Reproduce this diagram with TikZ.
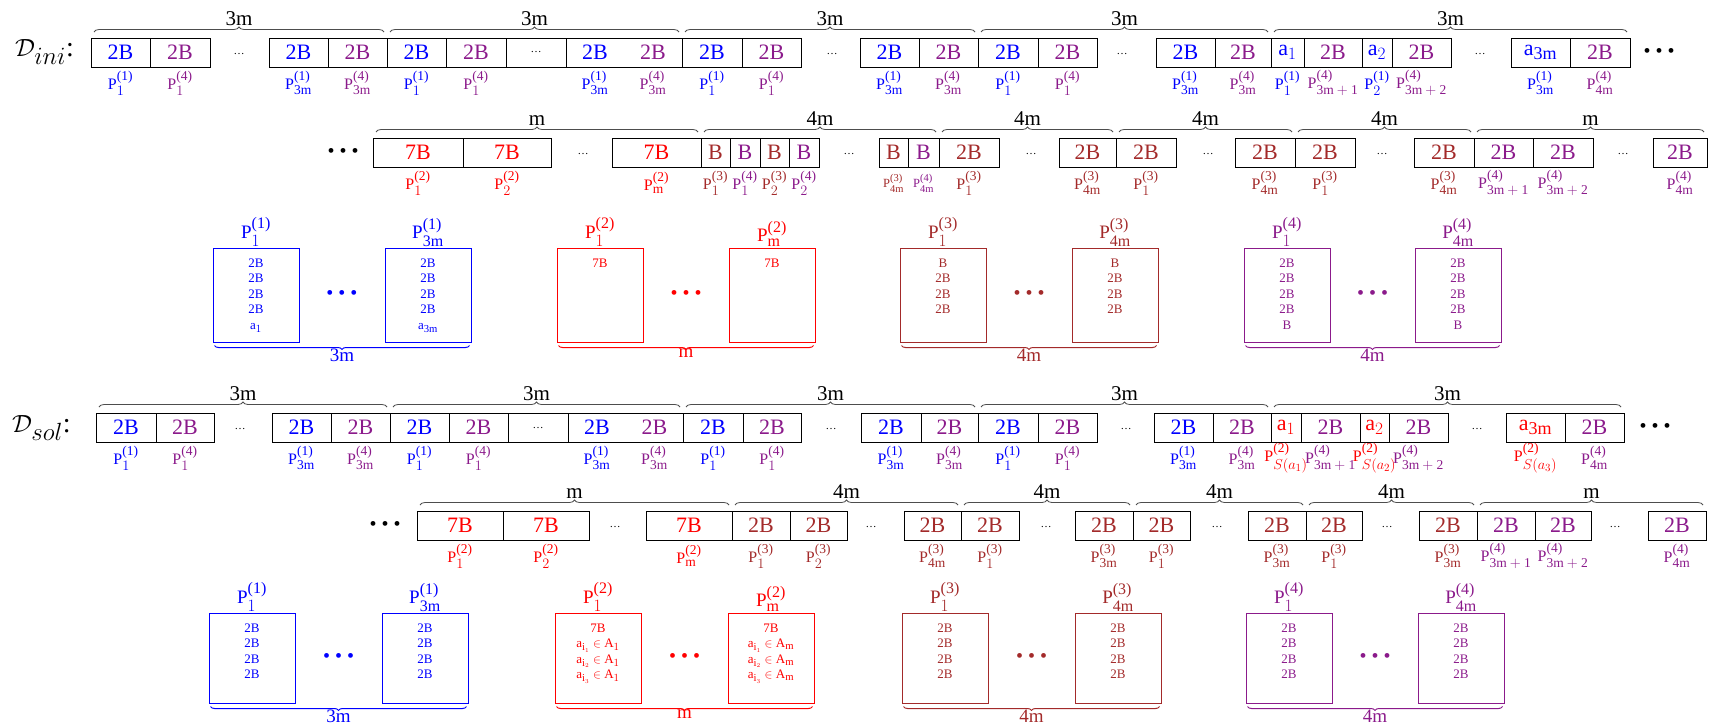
\documentclass[tikz,border=0pt]{standalone}
\usepackage{amsmath, amssymb}
\usepackage{fontspec}
\setmainfont{Liberation Serif}
\usetikzlibrary{calc, decorations.pathreplacing}
\renewcommand{\defaultscriptratio}{0.82}
\definecolor{pone}{HTML}{0000FF}
\definecolor{ptwo}{HTML}{FF0000}
\definecolor{pthree}{HTML}{A32A2A}
\definecolor{pfour}{HTML}{8B1A8B}
\definecolor{bracegray}{HTML}{4D4D4D}

\newcommand{\plsize}{\fontsize{13.5}{14}\selectfont}
\newcommand{\pl}[2]{P$^{\mbox{\plsize(#1)}}_{\mbox{\plsize$#2$}}$}
\newcommand{\ai}[1]{a$_{#1}$}
\newcommand{\aA}[2]{$\mathrm{a}_{\mathrm{i}_{#1}}\in\mathrm{A}_{#2}$}
\newcommand{\bigdots}{\textbullet\hspace{5pt}\textbullet\hspace{5pt}\textbullet}
\newcommand{\sdots}{{\fontsize{11}{12}\selectfont\ldots}}

\begin{document}
\begin{tikzpicture}[x=1pt, y=-1pt,
  cellbox/.style={draw, line width=0.8pt, minimum height=29pt, inner sep=0pt, outer sep=0pt, font=\fontsize{22}{24}\selectfont},
  boxed/.style={},
  nobox/.style={draw=none},
  plab/.style={inner sep=0pt, font=\fontsize{16}{18}\selectfont},
  smalldots/.style={inner sep=0pt, font=\fontsize{11}{12}\selectfont},
  bdots/.style={inner sep=0pt, font=\fontsize{20}{22}\selectfont},
  topbrace/.style={draw=bracegray, line width=0.8pt, decorate, decoration={brace, amplitude=5pt}},
  bracelab/.style={inner sep=1pt, font=\fontsize{21}{24}\selectfont},
  machine/.style 2 args={draw=#1, line width=1pt, minimum width=86pt, minimum height=#2, inner sep=0pt},
  mtitle/.style={inner sep=1pt, font=\fontsize{19}{21}\selectfont\renewcommand{\plsize}{\fontsize{16}{17}\selectfont}},
  mtext/.style={inner sep=0pt, align=center, font=\fontsize{13}{15.5}\selectfont},
  mbrace/.style={draw=#1, line width=1pt, decorate, decoration={brace, mirror, amplitude=4pt}},
  mlab/.style={inner sep=1pt, font=\fontsize{19}{21}\selectfont},
  dlab/.style={anchor=west, inner sep=0pt, font=\fontsize{28}{30}\selectfont}]
\useasboundingbox (0,0) rectangle (1709,726);

\node[dlab] (dini) at (15,52) {$\mathcal{D}_{ini}$:};
\node[dlab] (dsol) at (12,428) {$\mathcal{D}_{sol}$:};

% D_ini, first row
\foreach \nm/\xa/\xb/\col/\txt/\lab/\opt in {%
    a1/91/150/pone/2B/\pl{1}{1}/boxed,
    a2/150/210/pfour/2B/\pl{4}{1}/boxed,
    a3/269/328/pone/2B/\pl{1}{\mathrm{3m}}/boxed,
    a4/328/387/pfour/2B/\pl{4}{\mathrm{3m}}/boxed,
    a5/387/446/pone/2B/\pl{1}{1}/boxed,
    a6/446/506/pfour/2B/\pl{4}{1}/boxed,
    a7/506/566/black/\sdots/{}/boxed,
    a8/566/624/pone/2B/\pl{1}{\mathrm{3m}}/nobox,
    a9/624/682/pfour/2B/\pl{4}{\mathrm{3m}}/nobox,
    a10/682/742/pone/2B/\pl{1}{1}/boxed,
    a11/742/801/pfour/2B/\pl{4}{1}/boxed,
    a12/860/919/pone/2B/\pl{1}{\mathrm{3m}}/boxed,
    a13/919/978/pfour/2B/\pl{4}{\mathrm{3m}}/boxed,
    a14/978/1038/pone/2B/\pl{1}{1}/boxed,
    a15/1038/1097/pfour/2B/\pl{4}{1}/boxed,
    a16/1156/1215/pone/2B/\pl{1}{\mathrm{3m}}/boxed,
    a17/1215/1271/pfour/2B/\pl{4}{\mathrm{3m}}/boxed,
    a18/1271/1304/pone/\ai{1}/\pl{1}{1}/boxed,
    a19/1304/1362/pfour/2B/\pl{4}{\mathrm{3m+1}}/boxed,
    a20/1362/1392/pone/\ai{2}/\pl{1}{2}/boxed,
    a21/1392/1451/pfour/2B/\pl{4}{\mathrm{3m+2}}/boxed,
    a22/1511/1570/pone/\ai{\mathrm{3m}}/\pl{1}{\mathrm{3m}}/boxed,
    a23/1570/1630/pfour/2B/\pl{4}{\mathrm{4m}}/boxed}
{
    \node[cellbox, text=\col, minimum width={(\xb-\xa)*1pt}, \opt] (\nm) at ({(\xa+\xb)/2}, 52.5) {\txt};
    \node[plab, text=\col] (l\nm) at ({(\xa+\xb)/2}, 83) {\lab};
}
\draw[line width=0.8pt] (a8.north west) rectangle (a9.south east);
\foreach \x [count=\k] in {239, 832, 1122, 1480}
    \node[smalldots] (ga\k) at (\x, 54) {\ldots};
\node[bdots] (ea) at (1659, 52.5) {\bigdots};
\foreach \p/\q [count=\k] in {a1/a4, a5/a9, a10/a13, a14/a17, a18/a23}
    \draw[topbrace] ($(\p.north west)+(3,-6)$) -- ($(\q.north east)+(-3,-6)$)
        node[bracelab, midway, above=5pt] (ba\k) {3m};

% D_ini, second row
\foreach \nm/\xa/\xb/\col/\txt/\lab in {%
    b1/373/463/ptwo/7B/\pl{2}{1},
    b2/463/551/ptwo/7B/\pl{2}{2},
    b3/612/701/ptwo/7B/\pl{2}{\mathrm{m}},
    b4/701/730/pthree/B/\pl{3}{1},
    b5/730/760/pfour/B/\pl{4}{1},
    b6/760/789/pthree/B/\pl{3}{2},
    b7/789/819/pfour/B/\pl{4}{2},
    b8/879/908/pthree/B/{\fontsize{12.5}{14}\selectfont\renewcommand{\plsize}{\fontsize{10.5}{11}\selectfont}\pl{3}{\mathrm{4m}}},
    b9/908/939/pfour/B/{\fontsize{12.5}{14}\selectfont\renewcommand{\plsize}{\fontsize{10.5}{11}\selectfont}\pl{4}{\mathrm{4m}}},
    b10/939/999/pthree/2B/\pl{3}{1},
    b11/1059/1116/pthree/2B/\pl{3}{\mathrm{4m}},
    b12/1116/1176/pthree/2B/\pl{3}{1},
    b13/1235/1295/pthree/2B/\pl{3}{\mathrm{4m}},
    b14/1295/1355/pthree/2B/\pl{3}{1},
    b15/1414/1474/pthree/2B/\pl{3}{\mathrm{4m}},
    b16/1474/1533/pfour/2B/\pl{4}{\mathrm{3m+1}},
    b17/1533/1593/pfour/2B/\pl{4}{\mathrm{3m+2}},
    b18/1653/1707/pfour/2B/\pl{4}{\mathrm{4m}}}
{
    \node[cellbox, text=\col, minimum width={(\xb-\xa)*1pt}] (\nm) at ({(\xa+\xb)/2}, 152.5) {\txt};
    \node[plab, text=\col] (l\nm) at ({(\xa+\xb)/2}, 183) {\lab};
}
\foreach \x [count=\k] in {583, 849, 1031, 1208, 1382, 1623}
    \node[smalldots] (gb\k) at (\x, 154) {\ldots};
\node[bdots] (eb) at (343, 152.5) {\bigdots};
\foreach \p/\q/\t [count=\k] in {b1/b3/m, b4/b9/4m, b10/b11/4m, b12/b13/4m, b14/b15/4m, b16/b18/m}
    \draw[topbrace] ($(\p.north west)+(3,-6)$) -- ($(\q.north east)+(-3,-6)$)
        node[bracelab, midway, above=5pt] (bb\k) {\t};

% D_sol, first row
\foreach \nm/\xa/\xb/\col/\txt/\lab/\opt in {%
    d1/96/156/pone/2B/\pl{1}{1}/boxed,
    d2/156/214/pfour/2B/\pl{4}{1}/boxed,
    d3/272/331/pone/2B/\pl{1}{\mathrm{3m}}/boxed,
    d4/331/390/pfour/2B/\pl{4}{\mathrm{3m}}/boxed,
    d5/390/449/pone/2B/\pl{1}{1}/boxed,
    d6/449/508/pfour/2B/\pl{4}{1}/boxed,
    d7/508/568/black/\sdots/{}/boxed,
    d8/568/626/pone/2B/\pl{1}{\mathrm{3m}}/nobox,
    d9/626/683/pfour/2B/\pl{4}{\mathrm{3m}}/nobox,
    d10/683/743/pone/2B/\pl{1}{1}/boxed,
    d11/743/801/pfour/2B/\pl{4}{1}/boxed,
    d12/861/921/pone/2B/\pl{1}{\mathrm{3m}}/boxed,
    d13/921/978/pfour/2B/\pl{4}{\mathrm{3m}}/boxed,
    d14/978/1038/pone/2B/\pl{1}{1}/boxed,
    d15/1038/1097/pfour/2B/\pl{4}{1}/boxed,
    d16/1154/1213/pone/2B/\pl{1}{\mathrm{3m}}/boxed,
    d17/1213/1271/pfour/2B/\pl{4}{\mathrm{3m}}/boxed,
    d18/1271/1301/ptwo/\ai{1}/\pl{2}{S(a_1)}/boxed,
    d19/1301/1360/pfour/2B/\pl{4}{\mathrm{3m+1}}/boxed,
    d20/1360/1389/ptwo/\ai{2}/\pl{2}{S(a_2)}/boxed,
    d21/1389/1448/pfour/2B/\pl{4}{\mathrm{3m+2}}/boxed,
    d22/1506/1565/ptwo/\ai{\mathrm{3m}}/\pl{2}{S(a_3)}/boxed,
    d23/1565/1624/pfour/2B/\pl{4}{\mathrm{4m}}/boxed}
{
    \node[cellbox, text=\col, minimum width={(\xb-\xa)*1pt}, \opt] (\nm) at ({(\xa+\xb)/2}, 427.5) {\txt};
    \node[plab, text=\col] (l\nm) at ({(\xa+\xb)/2}, 458) {\lab};
}
\draw[line width=0.8pt] (d8.north west) rectangle (d9.south east);
\foreach \x [count=\k] in {240, 831, 1126, 1477}
    \node[smalldots] (gd\k) at (\x, 429) {\ldots};
\node[bdots] (ed) at (1655, 427.5) {\bigdots};
\foreach \p/\q [count=\k] in {d1/d4, d5/d9, d10/d13, d14/d17, d18/d23}
    \draw[topbrace] ($(\p.north west)+(3,-6)$) -- ($(\q.north east)+(-3,-6)$)
        node[bracelab, midway, above=5pt] (bd\k) {3m};

% D_sol, second row
\foreach \nm/\xa/\xb/\col/\txt/\lab in {%
    e1/417/503/ptwo/7B/\pl{2}{1},
    e2/503/589/ptwo/7B/\pl{2}{2},
    e3/646/732/ptwo/7B/\pl{2}{\mathrm{m}},
    e4/732/790/pthree/2B/\pl{3}{1},
    e5/790/847/pthree/2B/\pl{3}{2},
    e6/904/961/pthree/2B/\pl{3}{\mathrm{4m}},
    e7/961/1019/pthree/2B/\pl{3}{1},
    e8/1075/1133/pthree/2B/\pl{3}{\mathrm{3m}},
    e9/1133/1190/pthree/2B/\pl{3}{1},
    e10/1248/1306/pthree/2B/\pl{3}{\mathrm{3m}},
    e11/1306/1362/pthree/2B/\pl{3}{1},
    e12/1419/1477/pthree/2B/\pl{3}{\mathrm{3m}},
    e13/1477/1535/pfour/2B/\pl{4}{\mathrm{3m+1}},
    e14/1535/1591/pfour/2B/\pl{4}{\mathrm{3m+2}},
    e15/1648/1706/pfour/2B/\pl{4}{\mathrm{4m}}}
{
    \node[cellbox, text=\col, minimum width={(\xb-\xa)*1pt}] (\nm) at ({(\xa+\xb)/2}, 525.5) {\txt};
    \node[plab, text=\col] (l\nm) at ({(\xa+\xb)/2}, 556) {\lab};
}
\foreach \x [count=\k] in {615, 871, 1046, 1217, 1387, 1615}
    \node[smalldots] (ge\k) at (\x, 527) {\ldots};
\node[bdots] (ee) at (385, 525.5) {\bigdots};
\foreach \p/\q/\t [count=\k] in {e1/e3/m, e4/e6/4m, e7/e8/4m, e9/e10/4m, e11/e12/4m, e13/e15/m}
    \draw[topbrace] ($(\p.north west)+(3,-6)$) -- ($(\q.north east)+(-3,-6)$)
        node[bracelab, midway, above=5pt] (be\k) {\t};

% machines of D_ini
\foreach \nm/\xc/\col/\ttl/\txt in {%
    c1/256/pone/\pl{1}{1}/{2B\\2B\\2B\\2B\\\ai{1}},
    c2/428/pone/\pl{1}{\mathrm{3m}}/{2B\\2B\\2B\\2B\\\ai{\mathrm{3m}}},
    c3/600/ptwo/\pl{2}{1}/{7B},
    c4/772/ptwo/\pl{2}{\mathrm{m}}/{7B},
    c5/943/pthree/\pl{3}{1}/{B\\2B\\2B\\2B},
    c6/1115/pthree/\pl{3}{\mathrm{4m}}/{B\\2B\\2B\\2B},
    c7/1287/pfour/\pl{4}{1}/{2B\\2B\\2B\\2B\\B},
    c8/1458/pfour/\pl{4}{\mathrm{4m}}/{2B\\2B\\2B\\2B\\B}}
{
    \node[machine={\col}{94pt}] (\nm) at (\xc, 295) {};
    \node[mtitle, text=\col, anchor=south] (t\nm) at (\nm.north) {\ttl};
    \node[mtext, text=\col, anchor=north, yshift=-11pt] (x\nm) at (\nm.north) {\txt};
}
\foreach \p/\q/\col/\t [count=\k] in {c1/c2/pone/3m, c3/c4/ptwo/m, c5/c6/pthree/4m, c7/c8/pfour/4m}
{
    \node[bdots, text=\col] (gc\k) at ($(\p)!0.5!(\q)$) {\bigdots};
    \draw[mbrace=\col] ($(\p.south west)+(2,3)$) -- ($(\q.south east)+(-2,3)$)
        node[mlab, text=\col, midway, below=1.5pt] (bc\k) {\t};
}

% machines of D_sol
\foreach \nm/\xc/\col/\ttl/\txt in {%
    f1/252/pone/\pl{1}{1}/{2B\\2B\\2B\\2B},
    f2/425/pone/\pl{1}{\mathrm{3m}}/{2B\\2B\\2B\\2B},
    f3/598/ptwo/\pl{2}{1}/{7B\\\aA{1}{1}\\\aA{2}{1}\\\aA{3}{1}},
    f4/771/ptwo/\pl{2}{\mathrm{m}}/{7B\\\aA{1}{\mathrm{m}}\\\aA{2}{\mathrm{m}}\\\aA{3}{\mathrm{m}}},
    f5/945/pthree/\pl{3}{1}/{2B\\2B\\2B\\2B},
    f6/1118/pthree/\pl{3}{\mathrm{4m}}/{2B\\2B\\2B\\2B},
    f7/1289/pfour/\pl{4}{1}/{2B\\2B\\2B\\2B},
    f8/1461/pfour/\pl{4}{\mathrm{4m}}/{2B\\2B\\2B\\2B}}
{
    \node[machine={\col}{90pt}] (\nm) at (\xc, 658) {};
    \node[mtitle, text=\col, anchor=south] (t\nm) at (\nm.north) {\ttl};
    \node[mtext, text=\col, anchor=north, yshift=-11pt] (x\nm) at (\nm.north) {\txt};
}
\foreach \p/\q/\col/\t [count=\k] in {f1/f2/pone/3m, f3/f4/ptwo/m, f5/f6/pthree/4m, f7/f8/pfour/4m}
{
    \node[bdots, text=\col] (gf\k) at ($(\p)!0.5!(\q)$) {\bigdots};
    \draw[mbrace=\col] ($(\p.south west)+(2,3)$) -- ($(\q.south east)+(-2,3)$)
        node[mlab, text=\col, midway, below=1.5pt] (bf\k) {\t};
}
\end{tikzpicture}
\end{document}
